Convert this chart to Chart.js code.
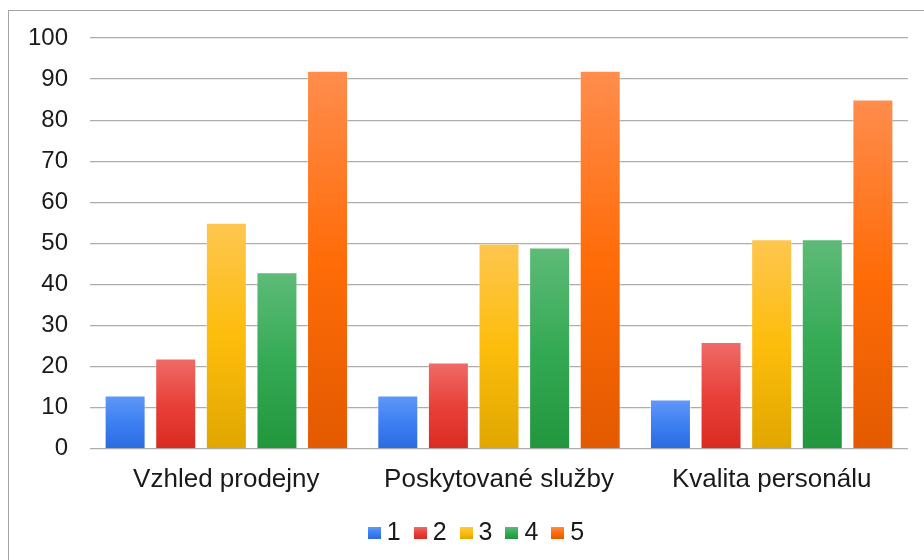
<!DOCTYPE html>
<html>
<head>
<meta charset="utf-8">
<script src="https://cdn.jsdelivr.net/npm/chart.js@4.4.0/dist/chart.umd.min.js"></script>
<style>
  html, body { margin: 0; padding: 0; background: #fff; overflow: hidden; }
  canvas { display: block; }
</style>
</head>
<body>
<canvas id="chart" width="924" height="560"></canvas>
<script>
// Survey ratings (1–5) per evaluated area
const categories = ['Vzhled prodejny', 'Poskytované služby', 'Kvalita personálu'];
const seriesNames = ['1', '2', '3', '4', '5'];
const rating1 = [13, 13, 12];
const rating2 = [22, 21, 26];
const rating3 = [55, 50, 51];
const rating4 = [43, 49, 51];
const rating5 = [92, 92, 85];
const yMin = 0;
const yMax = 100;
const yStep = 10;

const seriesValues = [rating1, rating2, rating3, rating4, rating5];

// Vertical gradient per series: top, middle, bottom
const palettes = [
  ['#6198f8', '#3d80f2', '#2a6ce0'],
  ['#f06b67', '#e8413a', '#d92b21'],
  ['#fec650', '#fdbd0c', '#e0a700'],
  ['#5ebb78', '#35aa55', '#22963d'],
  ['#ff8d4d', '#ff6c08', '#e35a00']
];

const FONT = '"Liberation Sans", Arial, sans-serif';
const TEXT = '#1a1a1a';

function makeGradient(ctx2d, top, bottom, p) {
  const g = ctx2d.createLinearGradient(0, top, 0, bottom);
  g.addColorStop(0, p[0]);
  g.addColorStop(0.5, p[1]);
  g.addColorStop(1, p[2]);
  return g;
}

function barFill(idx) {
  return (c) => {
    const chart = c.chart;
    const p = palettes[idx];
    const y = chart.scales && chart.scales.y;
    if (!chart.chartArea || !y || c.type !== 'data') return p[1];
    const v = c.parsed ? c.parsed.y : c.raw;
    const top = y.getPixelForValue(v);
    const bottom = y.getPixelForValue(0);
    if (!isFinite(top) || !isFinite(bottom) || top === bottom) return p[1];
    return makeGradient(chart.ctx, top, bottom, p);
  };
}

// Thin grey frame around the whole figure
const framePlugin = {
  id: 'frame',
  beforeDraw(chart) {
    const ctx = chart.ctx;
    ctx.save();
    ctx.strokeStyle = '#a3a3a3';
    ctx.lineWidth = 1;
    ctx.strokeRect(8.5, 10.5, chart.width + 20, chart.height + 20);
    ctx.restore();
  }
};

// Compact key below the axis: square swatch followed by the series name
const keyPlugin = {
  id: 'bottomKey',
  afterDraw(chart) {
    const ctx = chart.ctx;
    const area = chart.chartArea;
    ctx.save();
    ctx.font = '25px ' + FONT;
    ctx.textBaseline = 'middle';
    ctx.textAlign = 'left';
    const box = 13, gap = 6, space = 13;
    const items = chart.data.datasets.map((ds, i) => ({
      text: ds.label,
      i,
      w: box + gap + ctx.measureText(ds.label).width
    }));
    const total = items.reduce((s, it) => s + it.w, 0) + space * (items.length - 1);
    let x = chart.width / 2 + 14 - total / 2;
    const y = area.bottom + 84;
    items.forEach(it => {
      const p = palettes[it.i];
      ctx.fillStyle = makeGradient(ctx, y - 6, y + 6, p);
      ctx.fillRect(Math.round(x), Math.round(y - 6), box, 12);
      ctx.fillStyle = TEXT;
      ctx.fillText(it.text, x + box + gap, y);
      x += it.w + space;
    });
    ctx.restore();
  }
};

new Chart(document.getElementById('chart'), {
  type: 'bar',
  data: {
    labels: categories,
    datasets: seriesNames.map((name, i) => ({
      label: name,
      data: seriesValues[i],
      backgroundColor: barFill(i),
      borderColor: 'rgba(255,255,255,0.35)',
      borderWidth: 1,
      categoryPercentage: 0.928,
      barPercentage: 0.81
    }))
  },
  options: {
    responsive: false,
    animation: false,
    devicePixelRatio: 1,
    layout: { padding: { left: 0, right: 16, top: 38, bottom: 50 } },
    plugins: {
      legend: { display: false },
      tooltip: { enabled: false }
    },
    scales: {
      x: {
        grid: { display: false, drawTicks: false },
        border: { display: false },
        ticks: { color: TEXT, font: { family: FONT, size: 26 }, padding: 15 }
      },
      y: {
        min: yMin,
        max: yMax,
        afterFit(scale) { scale.width = 90; },
        grid: { color: '#adadad', lineWidth: 1.3, drawTicks: false },
        border: { display: false },
        ticks: { stepSize: yStep, color: TEXT, font: { family: FONT, size: 24 }, padding: 22 }
      }
    }
  },
  plugins: [framePlugin, keyPlugin]
});
</script>
</body>
</html>
